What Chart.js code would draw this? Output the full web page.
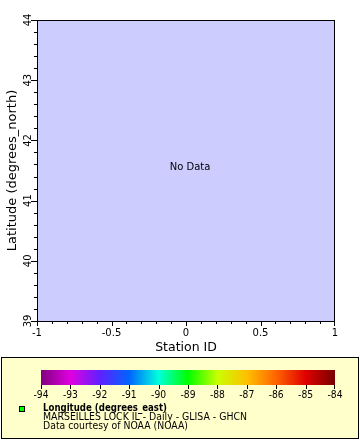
<!DOCTYPE html>
<html><head><meta charset="utf-8">
<script src="https://cdn.jsdelivr.net/npm/chart.js@4/dist/chart.umd.min.js"></script>
<style>html,body{margin:0;padding:0;background:#fff;}#c{display:block;}</style>
</head><body>
<canvas id="c" width="360" height="440"></canvas>
<script>
const stationIds = [];
const latitudes = [];
const xTicks = [-1, -0.5, 0, 0.5, 1];
const xTickLabels = ["-1", "-0.5", "0", "0.5", "1"];
const yTicks = [39, 40, 41, 42, 43, 44];
const yTickLabels = ["39", "40", "41", "42", "43", "44"];
const cbTicks = [-94, -93, -92, -91, -90, -89, -88, -87, -86, -85, -84];
const cbColors = ["#800080","#e000e0","#6020ff","#0064ff","#00ffdc","#00ff00","#c8ff00","#ffc000","#ff6400","#e00000","#780000"];
const legendLines = ["Longitude (degrees_east)", "MARSEILLES LOCK IL - Daily - GLISA - GHCN", "Data courtesy of NOAA (NOAA)"];

const FONT = "'DejaVu Sans', sans-serif";

const drawPlugin = {
  id: 'erddap',
  beforeDraw(chart) {
    const ctx = chart.ctx, a = chart.chartArea;
    ctx.save();
    ctx.fillStyle = '#ffffff';
    ctx.fillRect(0, 0, chart.width, chart.height);
    ctx.fillStyle = '#ccccff';
    ctx.fillRect(a.left, a.top, a.right - a.left, a.bottom - a.top);
    ctx.restore();
  },
  afterDraw(chart) {
    const ctx = chart.ctx, a = chart.chartArea;
    const xs = chart.scales.x, ys = chart.scales.y;
    ctx.save();
    ctx.strokeStyle = '#000'; ctx.lineWidth = 1;
    ctx.strokeRect(a.left + 0.5, a.top + 0.5, a.right - a.left - 1, a.bottom - a.top);
    ctx.fillStyle = '#000';
    // x ticks
    ctx.beginPath();
    for (let v = -10; v <= 10; v++) {
      const px = Math.round(xs.getPixelForValue(v / 10)) + 0.5 - (v === 10 ? 1 : 0);
      const len = (v % 5 === 0) ? 5 : 3;
      ctx.moveTo(px, a.bottom); ctx.lineTo(px, a.bottom + len);
    }
    // y ticks
    for (let v = 195; v <= 220; v++) {
      const py = Math.round(ys.getPixelForValue(v / 5)) + 0.5;
      const len = (v % 5 === 0) ? 6 : 3;
      ctx.moveTo(a.left, py); ctx.lineTo(a.left - len, py);
    }
    ctx.stroke();
    ctx.font = '10px ' + FONT;
    ctx.textAlign = 'center'; ctx.textBaseline = 'middle';
    xTicks.forEach((v, i) => ctx.fillText(xTickLabels[i], xs.getPixelForValue(v), a.bottom + 12));
    yTicks.forEach((v, i) => {
      ctx.save();
      ctx.translate(a.left - 9, ys.getPixelForValue(v));
      ctx.rotate(-Math.PI / 2);
      ctx.fillText(yTickLabels[i], 0, 0);
      ctx.restore();
    });
    // axis titles
    ctx.font = '12.5px ' + FONT;
    ctx.fillText('Station ID', (a.left + a.right) / 2, a.bottom + 27);
    ctx.save();
    ctx.translate(13, (a.top + a.bottom) / 2);
    ctx.rotate(-Math.PI / 2);
    ctx.font = '13px ' + FONT;
    ctx.fillText('Latitude (degrees_north)', 0, 0);
    ctx.restore();
    // no data
    ctx.font = '10px ' + FONT;
    ctx.fillText('No Data', xs.getPixelForValue(0) + 4, ys.getPixelForValue(41.55));
    // legend box
    ctx.fillStyle = '#ffffcc';
    ctx.fillRect(1, 357, 358, 82);
    ctx.strokeRect(1.5, 357.5, 357, 81);
    // colorbar
    const cbL = 41, cbR = 335, cbT = 370, cbB = 385;
    const cbPix = v => cbL + (v - cbTicks[0]) / (cbTicks[cbTicks.length - 1] - cbTicks[0]) * (cbR - cbL);
    const g = ctx.createLinearGradient(cbL, 0, cbR, 0);
    cbTicks.forEach((v, i) => g.addColorStop((cbPix(v) - cbL) / (cbR - cbL), cbColors[i]));
    ctx.fillStyle = g;
    ctx.fillRect(cbL, cbT, cbR - cbL, cbB - cbT);
    ctx.beginPath();
    cbTicks.forEach(v => { const px = Math.round(cbPix(v)) + 0.5 - (v === -84 ? 1 : 0); ctx.moveTo(px, cbB); ctx.lineTo(px, cbB + 4); });
    ctx.stroke();
    ctx.fillStyle = '#000';
    ctx.font = '10px ' + FONT;
    cbTicks.forEach(v => ctx.fillText(String(v), cbPix(v), 395, 15));
    // legend marker
    ctx.fillStyle = '#00ff00';
    ctx.fillRect(19, 406, 6, 6);
    ctx.strokeRect(19.5, 406.5, 5, 5);
    ctx.fillStyle = '#000';
    ctx.textAlign = 'left';
    ctx.textBaseline = 'alphabetic';
    ctx.font = 'bold 10px ' + FONT;
    ctx.fillText(legendLines[0], 43, 411, 124);
    ctx.font = '10px ' + FONT;
    ctx.fillText(legendLines[1], 43, 420, 204);
    ctx.fillText(legendLines[2], 43, 429, 145);
    ctx.restore();
  }
};

new Chart(document.getElementById('c'), {
  type: 'scatter',
  data: { datasets: [{ data: stationIds.map((x, i) => ({ x, y: latitudes[i] })), backgroundColor: '#00ff00' }] },
  options: {
    responsive: false, animation: false, devicePixelRatio: 1,
    layout: { padding: { left: 37, top: 20, right: 25, bottom: 119 } },
    plugins: { legend: { display: false }, tooltip: { enabled: false } },
    scales: {
      x: { type: 'linear', min: xTicks[0], max: xTicks[xTicks.length - 1], display: false },
      y: { type: 'linear', min: yTicks[0], max: yTicks[yTicks.length - 1], display: false }
    }
  },
  plugins: [drawPlugin]
});
</script>
</body></html>
